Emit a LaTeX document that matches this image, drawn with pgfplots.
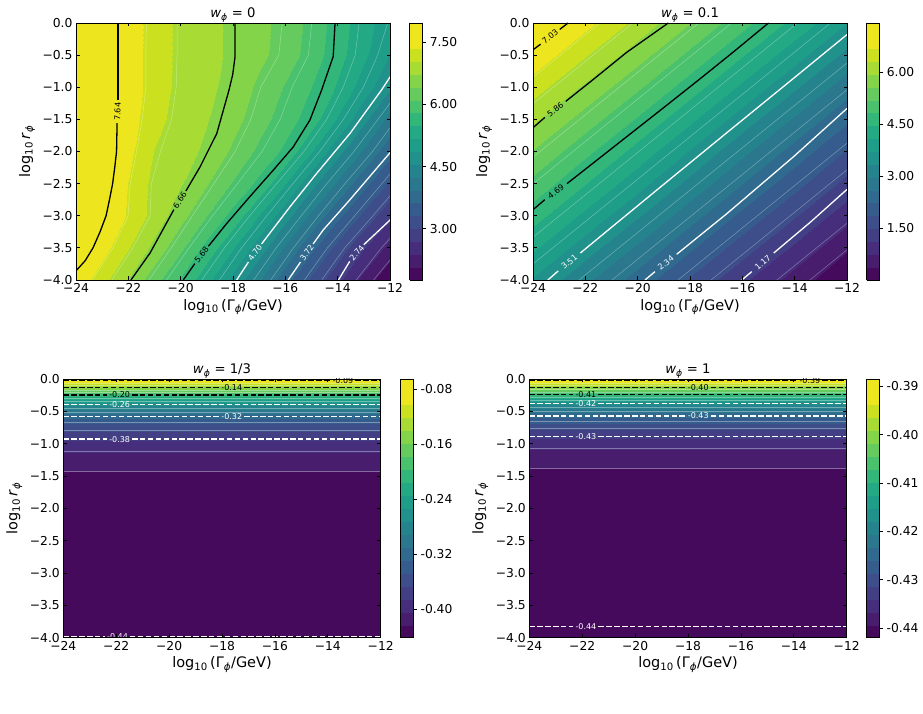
\documentclass[border=0pt]{standalone}
\usepackage{fontspec}
\setmainfont{DejaVu Sans}
\usepackage{pgfplots}
\usepackage{pgfplotstable}
\pgfplotsset{compat=1.18}

\newcommand\tickfont{\fontsize{12.3}{14}\selectfont}
\newcommand\axlabfont{\fontsize{14.5}{17}\selectfont}
\newcommand\titlefont{\fontsize{13.2}{15}\selectfont}
\newcommand\labfont{\fontsize{8}{9.6}\selectfont}

\tikzset{lab/.style={font=\labfont, inner sep=0pt, sloped}}

% nineteen viridis bands (band colours at the band centres), last entry repeated
\pgfplotsset{
  colormap={vir19}{
    rgb255=(70,10,93) rgb255=(72,29,110) rgb255=(71,46,124) rgb255=(67,63,133)
    rgb255=(61,78,138) rgb255=(54,92,141) rgb255=(48,106,142) rgb255=(43,119,142)
    rgb255=(37,131,142) rgb255=(33,145,140) rgb255=(30,157,137) rgb255=(35,169,131)
    rgb255=(50,182,122) rgb255=(73,193,109) rgb255=(101,203,94) rgb255=(132,212,74)
    rgb255=(168,219,52) rgb255=(203,225,32) rgb255=(237,229,30) rgb255=(237,229,30)
  },
  panel/.style={
    scale only axis, axis on top,
    xmin=-24, xmax=-12, ymin=-4, ymax=0,
    xtick={-24,-22,...,-12},
    xticklabels={−24,−22,−20,−18,−16,−14,−12},
    ytick={-4,-3.5,...,0},
    yticklabels={−4.0,−3.5,−3.0,−2.5,−2.0,−1.5,−1.0,−0.5,0.0},
    tick align=inside, major tick length=3.5pt,
    every tick/.style={black, line width=0.8pt},
    axis line style={line width=0.8pt},
    xticklabel style={font=\tickfont},
    yticklabel style={font=\tickfont},
    every axis x label/.style={at={(axis description cs:0.5,0)}, anchor=center, yshift=-27pt, font=\axlabfont},
    every axis y label/.style={at={(axis description cs:0,0.5)}, anchor=center, xshift=-49pt, rotate=90, font=\axlabfont},
    every axis title/.style={at={(axis description cs:0.5,1)}, anchor=base, yshift=5.5pt, font=\titlefont},
    xlabel={log\textsubscript{10}\,(Γ\textsubscript{\textit{ϕ}}/GeV)},
    ylabel={log\textsubscript{10}\,\textit{r}\textsubscript{\textit{ϕ}}},
    colormap name=vir19,
    colormap access=piecewise constant,
    colorbar,
    colorbar style={
      at={(parent axis.north east)}, anchor=north west, xshift=11pt,
      width=13.3pt, scale only axis,
      tick align=outside, ytick pos=right, major tick length=3.5pt,
      every tick/.style={black, line width=0.8pt},
      axis line style={line width=0.8pt},
      yticklabel style={font=\tickfont},
    },
  },
  clb/.style={black, line width=1.3pt},
  clw/.style={white, line width=1.3pt},
  dsh/.style={dash pattern=on 5.5pt off 2.4pt},
  thinl/.style={white, opacity=0.35, line width=0.5pt},
}

% w = 0 : grid of the relic quantity, x = log10 Gamma, y = log10 r
\pgfplotstableread{
x y z
-24 0 7.95
-23 0 7.76
-22 0 7.52
-21 0 7.22
-20 0 6.95
-19 0 6.81
-18 0 6.67
-17 0 6.50
-16 0 6.31
-15 0 6.01
-14 0 5.64
-13 0 5.29
-12 0 5.00
-24 -0.5 7.95
-23 -0.5 7.76
-22 -0.5 7.52
-21 -0.5 7.21
-20 -0.5 6.95
-19 -0.5 6.81
-18 -0.5 6.67
-17 -0.5 6.49
-16 -0.5 6.28
-15 -0.5 5.97
-14 -0.5 5.60
-13 -0.5 5.23
-12 -0.5 4.85
-24 -1 7.95
-23 -1 7.76
-22 -1 7.52
-21 -1 7.21
-20 -1 6.94
-19 -1 6.79
-18 -1 6.63
-17 -1 6.35
-16 -1 6.08
-15 -1 5.80
-14 -1 5.44
-13 -1 5.02
-12 -1 4.59
-24 -1.5 7.95
-23 -1.5 7.75
-22 -1.5 7.50
-21 -1.5 7.15
-20 -1.5 6.90
-19 -1.5 6.74
-18 -1.5 6.53
-17 -1.5 6.24
-16 -1.5 5.95
-15 -1.5 5.65
-14 -1.5 5.14
-13 -1.5 4.63
-12 -1.5 4.15
-24 -2 7.93
-23 -2 7.74
-22 -2 7.44
-21 -2 7.03
-20 -2 6.84
-19 -2 6.67
-18 -2 6.36
-17 -2 6.04
-16 -2 5.73
-15 -2 5.20
-14 -2 4.65
-13 -2 4.20
-12 -2 3.74
-24 -2.5 7.92
-23 -2.5 7.72
-22 -2.5 7.34
-21 -2.5 6.94
-20 -2.5 6.74
-19 -2.5 6.43
-18 -2.5 6.07
-17 -2.5 5.71
-16 -2.5 5.18
-15 -2.5 4.65
-14 -2.5 4.18
-13 -2.5 3.71
-12 -2.5 3.25
-24 -3 7.88
-23 -3 7.67
-22 -3 7.31
-21 -3 6.92
-20 -3 6.52
-19 -3 6.10
-18 -3 5.68
-17 -3 5.17
-16 -3 4.67
-15 -3 4.18
-14 -3 3.69
-13 -3 3.23
-12 -3 2.76
-24 -3.5 7.80
-23 -3.5 7.49
-22 -3.5 7.06
-21 -3.5 6.64
-20 -3.5 6.16
-19 -3.5 5.68
-18 -3.5 5.19
-17 -3.5 4.70
-16 -3.5 4.20
-15 -3.5 3.70
-14 -3.5 3.20
-13 -3.5 2.70
-12 -3.5 2.27
-24 -4 7.58
-23 -4 7.15
-22 -4 6.71
-21 -4 6.23
-20 -4 5.75
-19 -4 5.26
-18 -4 4.77
-17 -4 4.27
-16 -4 3.76
-15 -4 3.26
-14 -4 2.76
-13 -4 2.27
-12 -4 1.78
}\gridA

% w = 0.1
\pgfplotstableread{
x y z
-24 0 7.43
-22 0 6.81
-20 0 6.19
-18 0 5.57
-16 0 4.95
-14 0 4.33
-12 0 3.71
-24 -0.5 6.96
-22 -0.5 6.34
-20 -0.5 5.72
-18 -0.5 5.10
-16 -0.5 4.48
-14 -0.5 3.86
-12 -0.5 3.24
-24 -1 6.49
-22 -1 5.87
-20 -1 5.25
-18 -1 4.63
-16 -1 4.01
-14 -1 3.39
-12 -1 2.77
-24 -1.5 6.02
-22 -1.5 5.40
-20 -1.5 4.78
-18 -1.5 4.16
-16 -1.5 3.54
-14 -1.5 2.92
-12 -1.5 2.30
-24 -2 5.55
-22 -2 4.93
-20 -2 4.31
-18 -2 3.69
-16 -2 3.07
-14 -2 2.45
-12 -2 1.83
-24 -2.5 5.08
-22 -2.5 4.46
-20 -2.5 3.84
-18 -2.5 3.22
-16 -2.5 2.60
-14 -2.5 1.98
-12 -2.5 1.36
-24 -3 4.61
-22 -3 3.99
-20 -3 3.37
-18 -3 2.75
-16 -3 2.13
-14 -3 1.51
-12 -3 0.89
-24 -3.5 4.14
-22 -3.5 3.52
-20 -3.5 2.90
-18 -3.5 2.28
-16 -3.5 1.66
-14 -3.5 1.04
-12 -3.5 0.42
-24 -4 3.67
-22 -4 3.05
-20 -4 2.43
-18 -4 1.81
-16 -4 1.19
-14 -4 0.57
-12 -4 0.02
}\gridB

% w = 1/3 : depends on r only
\pgfplotstableread{
x y z
-24 0 -0.0660
-12 0 -0.0660
-24 -0.03 -0.0853
-12 -0.03 -0.0853
-24 -0.06 -0.1051
-12 -0.06 -0.1051
-24 -0.095 -0.1249
-12 -0.095 -0.1249
-24 -0.13 -0.1447
-12 -0.13 -0.1447
-24 -0.17 -0.1645
-12 -0.17 -0.1645
-24 -0.21 -0.1843
-12 -0.21 -0.1843
-24 -0.247 -0.2041
-12 -0.247 -0.2041
-24 -0.295 -0.2239
-12 -0.295 -0.2239
-24 -0.34 -0.2437
-12 -0.34 -0.2437
-24 -0.39 -0.2635
-12 -0.39 -0.2635
-24 -0.45 -0.2833
-12 -0.45 -0.2833
-24 -0.51 -0.3031
-12 -0.51 -0.3031
-24 -0.58 -0.3229
-12 -0.58 -0.3229
-24 -0.67 -0.3427
-12 -0.67 -0.3427
-24 -0.79 -0.3625
-12 -0.79 -0.3625
-24 -0.93 -0.3823
-12 -0.93 -0.3823
-24 -1.12 -0.4021
-12 -1.12 -0.4021
-24 -1.43 -0.4219
-12 -1.43 -0.4219
-24 -1.45 -0.4410
-12 -1.45 -0.4410
-24 -4 -0.4417
-12 -4 -0.4417
}\gridC

% w = 1 : depends on r only
\pgfplotstableread{
x y z
-24 0 -0.38860
-12 0 -0.38860
-24 -0.03 -0.39131
-12 -0.03 -0.39131
-24 -0.06 -0.39413
-12 -0.06 -0.39413
-24 -0.095 -0.39694
-12 -0.095 -0.39694
-24 -0.13 -0.39976
-12 -0.13 -0.39976
-24 -0.165 -0.40258
-12 -0.165 -0.40258
-24 -0.20 -0.40539
-12 -0.20 -0.40539
-24 -0.24 -0.40821
-12 -0.24 -0.40821
-24 -0.285 -0.41102
-12 -0.285 -0.41102
-24 -0.33 -0.41384
-12 -0.33 -0.41384
-24 -0.376 -0.41666
-12 -0.376 -0.41666
-24 -0.43 -0.41947
-12 -0.43 -0.41947
-24 -0.495 -0.42229
-12 -0.495 -0.42229
-24 -0.57 -0.42510
-12 -0.57 -0.42510
-24 -0.66 -0.42792
-12 -0.66 -0.42792
-24 -0.76 -0.43074
-12 -0.76 -0.43074
-24 -0.89 -0.43355
-12 -0.89 -0.43355
-24 -1.07 -0.43637
-12 -1.07 -0.43637
-24 -1.38 -0.43918
-12 -1.38 -0.43918
-24 -1.40 -0.44190
-12 -1.40 -0.44190
-24 -3.83 -0.44200
-12 -3.83 -0.44200
-24 -4 -0.44200
-12 -4 -0.44200
}\gridD

\begin{document}
\begin{tikzpicture}
\useasboundingbox (0pt,0pt) rectangle (923pt,714pt);

% ---------------- w = 0 ----------------
\begin{axis}[panel, at={(76pt,434pt)}, anchor=south west,
  width=314pt, height=257pt,
  title={\textit{w}\textsubscript{\textit{ϕ}} = 0},
  point meta min=1.76, point meta max=7.967,
  colorbar style={ytick={3,4.5,6,7.5}, yticklabels={3.00,4.50,6.00,7.50}},
]
\addplot[surf, shader=interp, mesh/cols=13, point meta=\thisrow{z}] table[x=x, y=y] {\gridA};
% unlabelled levels
\addplot[thinl] coordinates {(-21.31,0) (-21.33,-0.5) (-21.33,-1) (-21.47,-1.5) (-21.69,-2) (-21.93,-2.5) (-22.01,-3) (-22.59,-3.5) (-23.38,-4)};
\addplot[thinl] coordinates {(-20.14,0) (-20.14,-0.5) (-20.17,-1) (-20.35,-1.5) (-20.77,-2) (-21.12,-2.5) (-21.17,-3) (-21.83,-3.5) (-22.63,-4)};
\addplot[thinl] coordinates {(-16.12,0) (-16.25,-0.5) (-16.94,-1) (-17.32,-1.5) (-17.92,-2) (-18.73,-2.5) (-19.55,-3) (-20.36,-3.5) (-21.21,-4)};
\addplot[thinl] coordinates {(-14.99,0) (-15.12,-0.5) (-15.74,-1) (-16.20,-1.5) (-16.89,-2) (-17.83,-2.5) (-18.78,-3) (-19.68,-3.5) (-20.54,-4)};
\addplot[thinl] coordinates {(-13.18,0) (-13.33,-0.5) (-13.79,-1) (-14.42,-1.5) (-15.29,-2) (-16.33,-2.5) (-17.36,-3) (-18.33,-3.5) (-19.19,-4)};
\addplot[thinl] coordinates {(-12.09,0) (-12.47,-0.5) (-13.02,-1) (-13.78,-1.5) (-14.69,-2) (-15.71,-2.5) (-16.71,-3) (-17.67,-3.5) (-18.52,-4)};
\addplot[thinl] coordinates {(-12,-1.25) (-12.46,-1.5) (-13.38,-2) (-14.41,-2.5) (-15.39,-3) (-16.35,-3.5) (-17.21,-4)};
\addplot[thinl] coordinates {(-12,-1.63) (-12.67,-2) (-13.72,-2.5) (-14.73,-3) (-15.69,-3.5) (-16.56,-4)};
\addplot[thinl] coordinates {(-12,-2.35) (-12.31,-2.5) (-13.35,-3) (-14.39,-3.5) (-15.27,-4)};
\addplot[thinl] coordinates {(-12,-2.69) (-12.65,-3) (-13.73,-3.5) (-14.61,-4)};
\addplot[thinl] coordinates {(-12,-3.35) (-12.33,-3.5) (-13.29,-4)};
\addplot[thinl] coordinates {(-12,-3.69) (-12.63,-4)};
% 7.64
\addplot[clb] coordinates {(-22.40,0) (-22.40,-0.6) (-22.40,-1.20)};
\addplot[draw=none] coordinates {(-22.43,-1.56) (-22.40,-1.20)} node[midway, lab, text=black] {7.64};
\addplot[clb] coordinates {(-22.43,-1.56) (-22.45,-2.0) (-22.52,-2.25) (-22.60,-2.5) (-22.72,-2.75) (-22.85,-3.0) (-23.08,-3.25) (-23.35,-3.5) (-23.65,-3.7) (-24.05,-3.88)};
% 6.66
\addplot[clb] coordinates {(-17.92,0) (-17.92,-0.52) (-18.01,-0.80) (-18.15,-1.04) (-18.62,-1.72) (-19.26,-2.24) (-19.80,-2.615)};
\addplot[draw=none] coordinates {(-20.26,-2.905) (-19.80,-2.615)} node[midway, lab, text=black] {6.66};
\addplot[clb] coordinates {(-20.26,-2.905) (-21.17,-3.58) (-21.90,-4.0)};
% 5.68
\addplot[clb] coordinates {(-14.10,0) (-14.17,-0.52) (-14.61,-1.04) (-15.06,-1.51) (-15.70,-1.93) (-16.46,-2.29) (-17.35,-2.70) (-18.24,-3.12) (-18.94,-3.475)};
\addplot[draw=none] coordinates {(-19.46,-3.745) (-18.94,-3.475)} node[midway, lab, text=black] {5.68};
\addplot[clb] coordinates {(-19.46,-3.745) (-19.90,-4.0)};
% 4.70
\addplot[clw] coordinates {(-11.98,-0.83) (-12.32,-1.04) (-13.53,-1.72) (-14.80,-2.34) (-15.82,-2.86) (-16.91,-3.44)};
\addplot[draw=none] coordinates {(-17.41,-3.72) (-16.91,-3.44)} node[midway, lab, text=white] {4.70};
\addplot[clw] coordinates {(-17.41,-3.72) (-17.86,-4.0)};
% 3.72
\addplot[clw] coordinates {(-11.98,-2.01) (-13.53,-2.75) (-14.55,-3.22) (-14.94,-3.44)};
\addplot[draw=none] coordinates {(-15.42,-3.72) (-14.94,-3.44)} node[midway, lab, text=white] {3.72};
\addplot[clw] coordinates {(-15.42,-3.72) (-15.89,-4.0)};
% 2.74
\addplot[clw] coordinates {(-11.98,-3.06) (-13.0,-3.45)};
\addplot[draw=none] coordinates {(-13.54,-3.71) (-13.0,-3.45)} node[midway, lab, text=white] {2.74};
\addplot[clw] coordinates {(-13.54,-3.71) (-13.97,-4.0)};
\end{axis}

% ---------------- w = 0.1 ----------------
\begin{axis}[panel, at={(533pt,434pt)}, anchor=south west,
  width=314pt, height=257pt,
  title={\textit{w}\textsubscript{\textit{ϕ}} = 0.1},
  point meta min=0, point meta max=7.42,
  colorbar style={ytick={1.5,3,4.5,6}, yticklabels={1.50,3.00,4.50,6.00}},
]
\addplot[surf, shader=interp, mesh/cols=7, point meta=\thisrow{z}] table[x=x, y=y] {\gridB};
% unlabelled levels
\addplot[thinl] coordinates {(-13.42,-4) (-12,-3.53)};
\addplot[thinl] coordinates {(-14.68,-4) (-12,-3.116)};
\addplot[thinl] coordinates {(-17.20,-4) (-12,-2.285)};
\addplot[thinl] coordinates {(-18.46,-4) (-12,-1.870)};
\addplot[thinl] coordinates {(-20.98,-4) (-12,-1.039)};
\addplot[thinl] coordinates {(-22.24,-4) (-12,-0.623)};
\addplot[thinl] coordinates {(-24,-3.75) (-12.63,0)};
\addplot[thinl] coordinates {(-24,-3.335) (-13.89,0)};
\addplot[thinl] coordinates {(-24,-2.504) (-16.41,0)};
\addplot[thinl] coordinates {(-24,-2.088) (-17.67,0)};
\addplot[thinl] coordinates {(-24,-1.257) (-20.19,0)};
\addplot[thinl] coordinates {(-24,-0.842) (-21.45,0)};
% 7.03
\addplot[clb] coordinates {(-24,-0.417) (-23.71,-0.33)};
\addplot[draw=none] coordinates {(-23.71,-0.33) (-22.98,-0.10)} node[midway, lab, text=black] {7.03};
\addplot[clb] coordinates {(-22.98,-0.10) (-22.66,0.0)};
% 5.86
\addplot[clb] coordinates {(-24,-1.63) (-23.55,-1.47)};
\addplot[draw=none] coordinates {(-23.55,-1.47) (-22.75,-1.22)} node[midway, lab, text=black] {5.86};
\addplot[clb] coordinates {(-22.75,-1.22) (-21.70,-0.88) (-20.43,-0.46) (-18.83,0.0)};
% 4.69
\addplot[clb] coordinates {(-24,-2.906) (-23.55,-2.75)};
\addplot[draw=none] coordinates {(-23.55,-2.75) (-22.70,-2.50)} node[midway, lab, text=black] {4.69};
\addplot[clb] coordinates {(-22.70,-2.50) (-21.45,-2.10) (-20.17,-1.69) (-18.89,-1.28) (-17.62,-0.87) (-16.34,-0.45) (-15.0,0.0)};
% 3.51
\addplot[clw] coordinates {(-23.43,-4.0) (-23.04,-3.86)};
\addplot[draw=none] coordinates {(-23.04,-3.86) (-22.19,-3.58)} node[midway, lab, text=white] {3.51};
\addplot[clw] coordinates {(-22.19,-3.58) (-21.06,-3.20) (-19.15,-2.56) (-16.60,-1.71) (-14.04,-0.86) (-12,-0.18)};
% 2.34
\addplot[clw] coordinates {(-19.72,-4.0) (-19.34,-3.87)};
\addplot[draw=none] coordinates {(-19.34,-3.87) (-18.51,-3.60)} node[midway, lab, text=white] {2.34};
\addplot[clw] coordinates {(-18.51,-3.60) (-16.60,-2.97) (-14.04,-2.08) (-12,-1.33)};
% 1.17
\addplot[clw] coordinates {(-16.02,-4.0) (-15.64,-3.87)};
\addplot[draw=none] coordinates {(-15.64,-3.87) (-14.80,-3.58)} node[midway, lab, text=white] {1.17};
\addplot[clw] coordinates {(-14.80,-3.58) (-13.40,-3.10) (-12,-2.59)};
\end{axis}

% ---------------- w = 1/3 ----------------
\begin{axis}[panel, at={(63.3pt,76.3pt)}, anchor=south west,
  width=317.4pt, height=258.7pt,
  title={\textit{w}\textsubscript{\textit{ϕ}} = 1/3},
  point meta min=-0.4417, point meta max=-0.0655,
  colorbar style={ytick={-0.40,-0.32,-0.24,-0.16,-0.08}, yticklabels={-0.40,-0.32,-0.24,-0.16,-0.08}},
]
\addplot[surf, shader=interp, mesh/cols=2, point meta=\thisrow{z}] table[x=x, y=y] {\gridC};
\foreach \yy in {-1.43,-1.12,-0.79,-0.67,-0.51,-0.45,-0.34,-0.295,-0.21,-0.17,-0.095,-0.06} {
  \addplot[thinl] coordinates {(-24,\yy) (-12,\yy)};
}
% -0.09
\addplot[clb, dsh, line width=1.1pt] coordinates {(-24,-0.03) (-13.90,-0.03)};
\addplot[draw=none] coordinates {(-13.90,-0.03) (-12.96,-0.03)} node[midway, lab, text=black] {-0.09};
\addplot[clb, dsh, line width=1.1pt] coordinates {(-12.96,-0.03) (-12,-0.03)};
% -0.14
\addplot[clb, dsh, line width=1.1pt] coordinates {(-24,-0.13) (-18.10,-0.13)};
\addplot[draw=none] coordinates {(-18.10,-0.13) (-17.16,-0.13)} node[midway, lab, text=black] {-0.14};
\addplot[clb, dsh, line width=1.1pt] coordinates {(-17.16,-0.13) (-12,-0.13)};
% -0.20
\addplot[clb, dsh, line width=1.1pt] coordinates {(-24,-0.247) (-22.34,-0.247)};
\addplot[draw=none] coordinates {(-22.34,-0.247) (-21.40,-0.247)} node[midway, lab, text=black] {-0.20};
\addplot[clb, dsh, line width=1.1pt] coordinates {(-21.40,-0.247) (-12,-0.247)};
% -0.26
\addplot[clw, dsh] coordinates {(-24,-0.39) (-22.34,-0.39)};
\addplot[draw=none] coordinates {(-22.34,-0.39) (-21.40,-0.39)} node[midway, lab, text=white] {-0.26};
\addplot[clw, dsh] coordinates {(-21.40,-0.39) (-12,-0.39)};
% -0.32
\addplot[clw, dsh] coordinates {(-24,-0.58) (-18.10,-0.58)};
\addplot[draw=none] coordinates {(-18.10,-0.58) (-17.16,-0.58)} node[midway, lab, text=white] {-0.32};
\addplot[clw, dsh] coordinates {(-17.16,-0.58) (-12,-0.58)};
% -0.38
\addplot[clw, dsh] coordinates {(-24,-0.93) (-22.34,-0.93)};
\addplot[draw=none] coordinates {(-22.34,-0.93) (-21.40,-0.93)} node[midway, lab, text=white] {-0.38};
\addplot[clw, dsh] coordinates {(-21.40,-0.93) (-12,-0.93)};
% -0.44
\addplot[clw, dsh] coordinates {(-24,-3.98) (-22.42,-3.98)};
\addplot[draw=none] coordinates {(-22.42,-3.98) (-21.48,-3.98)} node[midway, lab, text=white] {-0.44};
\addplot[clw, dsh] coordinates {(-21.48,-3.98) (-12,-3.98)};
\end{axis}

% ---------------- w = 1 ----------------
\begin{axis}[panel, at={(529.3pt,76.3pt)}, anchor=south west,
  width=317.4pt, height=258.7pt,
  title={\textit{w}\textsubscript{\textit{ϕ}} = 1},
  point meta min=-0.4420, point meta max=-0.3885,
  colorbar style={ytick={-0.44,-0.43,-0.42,-0.41,-0.40,-0.39}, yticklabels={-0.44,-0.43,-0.42,-0.41,-0.40,-0.39}},
]
\addplot[surf, shader=interp, mesh/cols=2, point meta=\thisrow{z}] table[x=x, y=y] {\gridD};
\foreach \yy in {-1.38,-1.07,-0.76,-0.66,-0.495,-0.43,-0.33,-0.285,-0.20,-0.165,-0.095,-0.06} {
  \addplot[thinl] coordinates {(-24,\yy) (-12,\yy)};
}
% -0.39
\addplot[clb, dsh, line width=1.1pt] coordinates {(-24,-0.03) (-13.86,-0.03)};
\addplot[draw=none] coordinates {(-13.86,-0.03) (-12.92,-0.03)} node[midway, lab, text=black] {-0.39};
\addplot[clb, dsh, line width=1.1pt] coordinates {(-12.92,-0.03) (-12,-0.03)};
% -0.40
\addplot[clb, dsh, line width=1.1pt] coordinates {(-24,-0.13) (-18.08,-0.13)};
\addplot[draw=none] coordinates {(-18.08,-0.13) (-17.14,-0.13)} node[midway, lab, text=black] {-0.40};
\addplot[clb, dsh, line width=1.1pt] coordinates {(-17.14,-0.13) (-12,-0.13)};
% -0.41
\addplot[clb, dsh, line width=1.1pt] coordinates {(-24,-0.24) (-22.33,-0.24)};
\addplot[draw=none] coordinates {(-22.33,-0.24) (-21.39,-0.24)} node[midway, lab, text=black] {-0.41};
\addplot[clb, dsh, line width=1.1pt] coordinates {(-21.39,-0.24) (-12,-0.24)};
% -0.42
\addplot[clw, dsh] coordinates {(-24,-0.376) (-22.33,-0.376)};
\addplot[draw=none] coordinates {(-22.33,-0.376) (-21.39,-0.376)} node[midway, lab, text=white] {-0.42};
\addplot[clw, dsh] coordinates {(-21.39,-0.376) (-12,-0.376)};
% -0.43
\addplot[clw, dsh] coordinates {(-24,-0.57) (-18.08,-0.57)};
\addplot[draw=none] coordinates {(-18.08,-0.57) (-17.14,-0.57)} node[midway, lab, text=white] {-0.43};
\addplot[clw, dsh] coordinates {(-17.14,-0.57) (-12,-0.57)};
% -0.43
\addplot[clw, dsh] coordinates {(-24,-0.89) (-22.33,-0.89)};
\addplot[draw=none] coordinates {(-22.33,-0.89) (-21.39,-0.89)} node[midway, lab, text=white] {-0.43};
\addplot[clw, dsh] coordinates {(-21.39,-0.89) (-12,-0.89)};
% -0.44
\addplot[clw, dsh] coordinates {(-24,-3.83) (-22.33,-3.83)};
\addplot[draw=none] coordinates {(-22.33,-3.83) (-21.39,-3.83)} node[midway, lab, text=white] {-0.44};
\addplot[clw, dsh] coordinates {(-21.39,-3.83) (-12,-3.83)};
\end{axis}
\end{tikzpicture}
\end{document}
